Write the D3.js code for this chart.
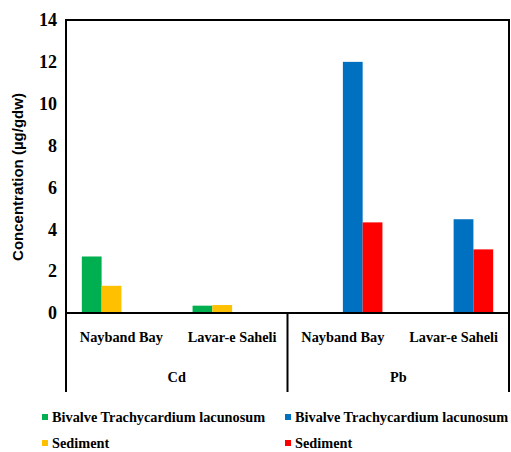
<!DOCTYPE html>
<html>
<head>
<meta charset="utf-8">
<script src="https://cdn.jsdelivr.net/npm/d3@7"></script>
<style>
  body { margin: 0; background: #fff; }
  svg { display: block; }
</style>
</head>
<body>
<svg id="chart" width="511" height="452" font-family="Liberation Serif" font-weight="bold"></svg>
<script>
// chart data
var metals = ['Cd', 'Pb'];
var sites = ['Nayband Bay', 'Lavar-e Saheli'];
// one slot per metal/site pair, in drawing order
var categories = ['Cd|Nayband Bay', 'Cd|Lavar-e Saheli', 'Pb|Nayband Bay', 'Pb|Lavar-e Saheli'];
var seriesNames = ['Bivalve Trachycardium lacunosum', 'Sediment', 'Bivalve Trachycardium lacunosum', 'Sediment'];
var seriesKeys = ['cdBivalve', 'cdSediment', 'pbBivalve', 'pbSediment'];
var seriesColors = ['#00b050', '#ffc000', '#0070c0', '#ff0000'];
var cdBivalve = [2.7, 0.35, 0, 0];
var cdSediment = [1.3, 0.38, 0, 0];
var pbBivalve = [0, 0, 12.0, 4.48];
var pbSediment = [0, 0, 4.33, 3.04];
var yTicks = [0, 2, 4, 6, 8, 10, 12, 14];

var width = 511;
var height = 452;
var margin = { top: 20, left: 66, right: 2, bottom: 139 };
var plotW = width - margin.left - margin.right;
var plotH = height - margin.top - margin.bottom;

var seriesValues = [cdBivalve, cdSediment, pbBivalve, pbSediment];

// text inherits the serif face from the svg element
var svg = d3.select('#chart');

var g = svg.append('g')
  .attr('transform', 'translate(' + margin.left + ',' + margin.top + ')');

// scales
var x0 = d3.scaleBand().domain(categories).range([0, plotW]).padding(0);
var x1 = d3.scaleBand().domain(seriesKeys).range([0, x0.bandwidth()])
  .paddingInner(0).paddingOuter(0.8);
var y = d3.scaleLinear().domain([0, 14]).range([plotH, 0]);

// bars
categories.forEach(function(cat, ci) {
  var cg = g.append('g').attr('transform', 'translate(' + x0(cat) + ',0)');
  seriesKeys.forEach(function(key, si) {
    var v = seriesValues[si][ci];
    if (!v) return;
    cg.append('rect')
      .attr('x', x1(key))
      .attr('y', y(v))
      .attr('width', x1.bandwidth())
      .attr('height', y(0) - y(v))
      .attr('fill', seriesColors[si]);
  });
});

// frame
g.append('rect')
  .attr('x', 0).attr('y', 0)
  .attr('width', plotW).attr('height', plotH)
  .attr('fill', 'none')
  .attr('stroke', '#000')
  .attr('stroke-width', 2);

// y axis labels
var yAxis = d3.axisLeft(y).tickValues(yTicks).tickSize(0).tickPadding(9);
var ya = g.append('g').call(yAxis);
ya.select('.domain').remove();
ya.attr('font-family', null)
  .attr('font-size', 18);
ya.selectAll('text')
  .attr('fill', '#000');

// multi-level x axis
var lowerH = 79;
var dividers = [0, x0('Pb|Nayband Bay'), plotW];
g.selectAll('.divider')
  .data(dividers)
  .enter().append('line')
  .attr('x1', function(d) { return d; })
  .attr('x2', function(d) { return d; })
  .attr('y1', plotH)
  .attr('y2', plotH + lowerH)
  .attr('stroke', '#000')
  .attr('stroke-width', 2);

g.selectAll('.site-label')
  .data(categories)
  .enter().append('text')
  .attr('x', function(d) { return x0(d) + x0.bandwidth() / 2; })
  .attr('y', plotH + 24)
  .attr('dy', '0.35em')
  .attr('text-anchor', 'middle')
  .attr('font-size', 14.3)
  .text(function(d) { return d.split('|')[1]; });

g.selectAll('.metal-label')
  .data(metals)
  .enter().append('text')
  .attr('x', function(d) {
    return x0(d + '|' + sites[0]) + x0.bandwidth();
  })
  .attr('y', plotH + 64)
  .attr('dy', '0.35em')
  .attr('text-anchor', 'middle')
  .attr('font-size', 14.3)
  .text(function(d) { return d; });

// y title, the one sans-serif text
svg.append('text')
  .attr('transform', 'translate(18,' + (margin.top + 157) + ') rotate(-90)')
  .attr('text-anchor', 'middle')
  .attr('dy', '0.35em')
  .attr('font-family', 'Liberation Sans')
  .attr('font-size', 15)
  .text('Concentration (\u00b5g/gdw)');

// legend, two columns
var legendPos = [[42, 417], [42, 443], [285, 417], [285, 443]];
var legend = svg.selectAll('.legend-item')
  .data(seriesKeys)
  .enter().append('g')
  .attr('transform', function(d, i) {
    return 'translate(' + legendPos[i][0] + ',' + legendPos[i][1] + ')';
  });

legend.append('rect')
  .attr('x', 0).attr('y', -3)
  .attr('width', 6).attr('height', 6)
  .attr('fill', function(d, i) { return seriesColors[i]; });

legend.append('text')
  .attr('x', 10)
  .attr('dy', '0.35em')
  .attr('font-size', 14.3)
  .text(function(d, i) { return seriesNames[i]; });
</script>
</body>
</html>
